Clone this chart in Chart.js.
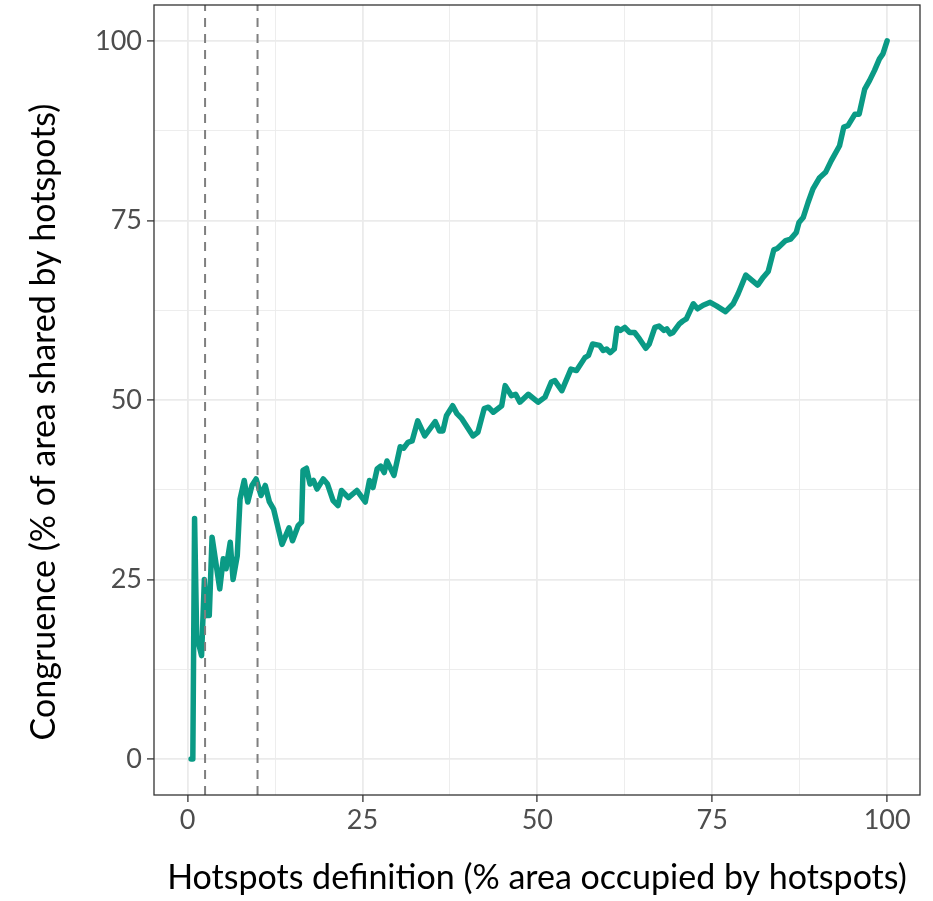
<!DOCTYPE html>
<html>
<head>
<meta charset="utf-8">
<script src="https://cdn.jsdelivr.net/npm/chart.js@4.4.1/dist/chart.umd.min.js"></script>
<style>
  html, body { margin: 0; padding: 0; background: #ffffff; }
  #wrap { width: 933px; height: 901px; }
</style>
</head>
<body>
<div id="wrap"><canvas id="chart"></canvas></div>
<script>
// --- data ---
const hotspotPct = [0.5, 0.75, 1.0, 1.3, 2.0, 2.4, 2.7, 3.1, 3.5, 4.6, 5.1, 5.5, 6.1, 6.5, 7.1, 7.5, 8.1, 8.6, 9.2, 9.8,
  10.5, 11.1, 11.7, 12.3, 13.5, 14.5, 15.0, 15.8, 16.3, 16.5, 17.0, 17.5, 18.0, 18.5, 19.4, 20.0, 20.8, 21.5, 22.0, 23.0,
  24.2, 25.4, 26.0, 26.5, 27.1, 27.6, 28.1, 28.5, 29.5, 30.4, 30.9, 31.5, 32.1, 32.9, 33.9, 35.4, 36.0, 36.5, 37.0, 37.9,
  38.5, 39.2, 40.8, 41.5, 42.4, 43.0, 43.7, 44.9, 45.4, 46.3, 46.9, 47.5, 48.7, 50.1, 51.1, 52.0, 52.5, 53.5, 54.8, 55.6,
  56.8, 57.3, 57.9, 58.9, 59.4, 59.9, 60.4, 61.0, 61.4, 61.9, 62.5, 63.2, 63.9, 64.6, 65.5, 66.0, 66.8, 67.4, 68.1, 68.5,
  69.0, 69.4, 70.3, 70.8, 71.3, 72.3, 72.9, 73.7, 74.7, 75.6, 76.9, 78.0, 78.7, 79.8, 81.5, 82.3, 83.0, 83.8, 84.3, 85.5,
  86.2, 87.0, 87.4, 88.0, 88.7, 89.4, 90.3, 91.2, 92.0, 93.2, 93.8, 94.4, 95.4, 96.0, 96.8, 97.5, 98.2, 98.9, 99.4, 100];

const congruence = [0, 0, 33.5, 17.2, 14.4, 25, 20, 20, 30.9, 23.7, 27.9, 26.5, 30.2, 25, 28.3, 36.2, 38.8, 35.8, 38.1, 39,
  36.7, 38.1, 35.8, 34.8, 29.9, 32.2, 30.4, 32.5, 33, 40.2, 40.5, 38.3, 38.8, 37.6, 39.0, 38.3, 36.0, 35.3, 37.4, 36.4,
  37.4, 35.8, 38.8, 37.8, 40.4, 40.8, 39.9, 41.5, 39.5, 43.5, 43.3, 44.1, 44.3, 47.1, 45.0, 47.0, 45.7, 45.7, 47.8, 49.2,
  48.1, 47.4, 45.0, 45.5, 48.8, 49.0, 48.3, 49.2, 52.0, 50.6, 50.8, 49.7, 50.8, 49.7, 50.4, 52.5, 52.7, 51.3, 54.3, 54.1,
  55.9, 56.2, 57.8, 57.6, 56.9, 57.1, 56.6, 57.1, 60.0, 59.7, 60.1, 59.4, 59.4, 58.5, 57.2, 57.8, 60.1, 60.3, 59.7, 59.9,
  59.2, 59.4, 60.6, 61.0, 61.3, 63.4, 62.7, 63.2, 63.6, 63.1, 62.3, 63.4, 64.8, 67.4, 66.0, 67.1, 67.9, 70.9, 71.1, 72.2,
  72.4, 73.3, 74.7, 75.4, 77.5, 79.4, 80.9, 81.7, 83.3, 85.4, 88.0, 88.2, 89.8, 89.8, 93.3, 94.5, 95.9, 97.5, 98.2, 100];

const cutoffs = [2.5, 10];            // dashed reference lines
const xTicks = [0, 25, 50, 75, 100];
const yTicks = [0, 25, 50, 75, 100];
const xMinorGrid = [12.5, 37.5, 62.5, 87.5];
const yMinorGrid = [12.5, 37.5, 62.5, 87.5];

const X_TITLE = 'Hotspots definition (% area occupied by hotspots)';
const Y_TITLE = 'Congruence (% of area shared by hotspots)';

const X_MIN = -4.8, X_MAX = 104.7;
const Y_MIN = -5, Y_MAX = 105;

const TEAL = '#0a9a85';
const GRID = '#ebebeb';

// --- datasets ---
const curve = hotspotPct.map((x, i) => ({ x: x, y: congruence[i] }));

const datasets = [{
  data: curve,
  borderColor: TEAL,
  borderWidth: 5.5,
  borderJoinStyle: 'round',
  borderCapStyle: 'round',
  pointRadius: 0,
  tension: 0,
  order: 2
}];

cutoffs.forEach(c => {
  datasets.push({
    data: [{ x: c, y: Y_MIN }, { x: c, y: Y_MAX }],
    borderColor: '#7f7f7f',
    borderWidth: 2,
    borderDash: [9, 7],
    pointRadius: 0,
    order: 1
  });
});

function gridTicks(major, minor) {
  return major.concat(minor).sort((a, b) => a - b).map(v => ({ value: v }));
}

const tickFont = { family: 'Lato, sans-serif', size: 27 };
const titleFont = { family: 'Lato, sans-serif', size: 34 };

// white background, panel border and the (slightly lowered) y title
const panelBorder = {
  id: 'panelBorder',
  beforeDraw(chart) {
    const ctx = chart.ctx;
    ctx.save();
    ctx.fillStyle = '#ffffff';
    ctx.fillRect(0, 0, chart.width, chart.height);
    ctx.restore();
  },
  afterDatasetsDraw(chart) {
    const { ctx, chartArea: a } = chart;
    ctx.save();
    ctx.strokeStyle = '#333333';
    ctx.lineWidth = 1.3;
    ctx.strokeRect(a.left, a.top, a.right - a.left, a.bottom - a.top);
    ctx.restore();
  },
  afterDraw(chart) {
    const { ctx, chartArea: a } = chart;
    ctx.save();
    ctx.translate(44, (a.top + a.bottom) / 2 + 22);
    ctx.rotate(-Math.PI / 2);
    ctx.font = titleFont.size + 'px ' + titleFont.family;
    ctx.fillStyle = '#000000';
    ctx.textAlign = 'center';
    ctx.textBaseline = 'middle';
    ctx.fillText(Y_TITLE, 0, 0);
    ctx.restore();
  }
};

new Chart(document.getElementById('chart'), {
  type: 'line',
  data: { datasets: datasets },
  plugins: [panelBorder],
  options: {
    responsive: true,
    maintainAspectRatio: false,
    animation: false,
    layout: { padding: { top: 5, right: 13, left: 0, bottom: 0 } },
    plugins: {
      legend: { display: false },
      tooltip: { enabled: false }
    },
    scales: {
      x: {
        type: 'linear',
        min: X_MIN,
        max: X_MAX,
        afterBuildTicks: s => { s.ticks = gridTicks(xTicks, xMinorGrid); },
        afterFit: s => { s.height = 106; s.paddingLeft = 0; s.paddingRight = 0; },
        border: { display: false },
        grid: {
          color: GRID,
          lineWidth: c => xTicks.includes(c.tick.value) ? 1.8 : 0.9,
          tickColor: c => xTicks.includes(c.tick.value) ? '#333333' : 'rgba(0,0,0,0)',
          tickLength: 7,
          tickWidth: 1.3
        },
        ticks: {
          autoSkip: false,
          maxRotation: 0,
          padding: 2,
          color: '#4d4d4d',
          font: tickFont,
          callback: v => xTicks.includes(v) ? String(v) : ''
        },
        title: {
          display: true,
          text: X_TITLE,
          color: '#000000',
          font: titleFont,
          padding: { top: 0, bottom: 3 }
        }
      },
      y: {
        type: 'linear',
        min: Y_MIN,
        max: Y_MAX,
        afterBuildTicks: s => { s.ticks = gridTicks(yTicks, yMinorGrid); },
        afterFit: s => { s.width = 154; s.paddingTop = 0; s.paddingBottom = 0; },
        border: { display: false },
        grid: {
          color: GRID,
          lineWidth: c => yTicks.includes(c.tick.value) ? 1.8 : 0.9,
          tickColor: c => yTicks.includes(c.tick.value) ? '#333333' : 'rgba(0,0,0,0)',
          tickLength: 7,
          tickWidth: 1.3
        },
        ticks: {
          autoSkip: false,
          padding: 5,
          color: '#4d4d4d',
          font: tickFont,
          callback: v => yTicks.includes(v) ? String(v) : ''
        },
        title: { display: false }
      }
    }
  }
});
</script>
</body>
</html>
